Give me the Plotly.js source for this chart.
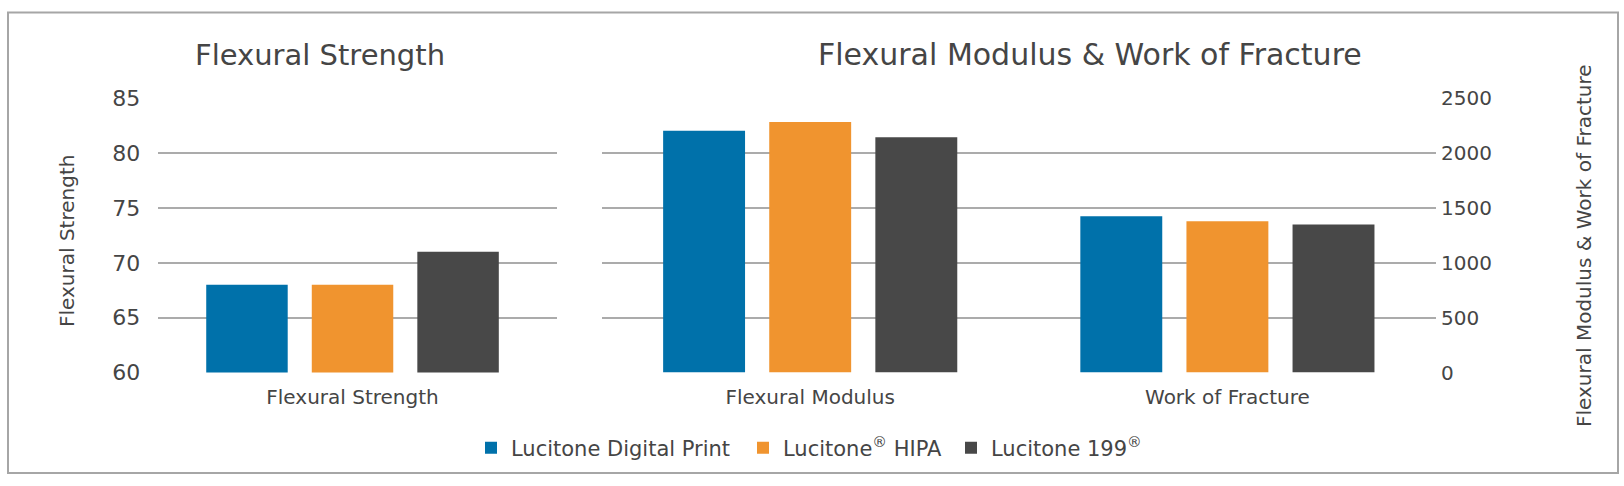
<!DOCTYPE html>
<html>
<head>
<meta charset="utf-8">
<script src="https://cdn.plot.ly/plotly-3.0.1.min.js"></script>
<style>
  html, body { margin: 0; padding: 0; background: #fff; }
  #chart { width: 1624px; height: 486px; }
</style>
</head>
<body>
<div id="chart"></div>
<script>
  // series and values
  const seriesNames = ['Lucitone Digital Print', 'Lucitone<sup>®</sup> HIPA', 'Lucitone 199<sup>®</sup>'];
  const seriesColors = ['#0071aa', '#f0942f', '#484848'];

  const strengthCats = ['Flexural Strength'];
  const strengthVals = [[68], [68], [71]];

  const modulusCats = ['Flexural Modulus', 'Work of Fracture'];
  const modulusVals = [[2205, 1425], [2285, 1380], [2145, 1350]];

  const strengthTicks = [60, 65, 70, 75, 80, 85];
  const modulusTicks = [0, 500, 1000, 1500, 2000, 2500];

  const W = 1624, H = 486;
  const FONT = '"DejaVu Sans", "Open Sans", sans-serif';
  const TXT = '#454545';
  const GRID = '#ababab';

  function px(x) { return x / W; }
  function py(y) { return 1 - y / H; }

  // one legend per series so each key sits where the picture has it
  const legendIds = ['legend', 'legend2', 'legend3'];
  const legendLeft = [485, 757, 965];

  var data = [];
  for (let i = 0; i < seriesNames.length; i++) {
    data.push({
      type: 'bar',
      name: seriesNames[i],
      legendgroup: 's' + i,
      legend: legendIds[i],
      x: strengthCats,
      y: strengthVals[i],
      xaxis: 'x',
      yaxis: 'y',
      marker: { color: seriesColors[i] },
      hoverinfo: 'y+name'
    });
  }
  for (let i = 0; i < seriesNames.length; i++) {
    data.push({
      type: 'bar',
      name: seriesNames[i],
      legendgroup: 's' + i,
      legend: legendIds[i],
      showlegend: false,
      x: modulusCats,
      y: modulusVals[i],
      xaxis: 'x2',
      yaxis: 'y2',
      marker: { color: seriesColors[i] },
      hoverinfo: 'y+name'
    });
  }

  var layout = {
    width: W,
    height: H,
    margin: { l: 0, r: 0, t: 0, b: 0 },
    paper_bgcolor: '#fff',
    plot_bgcolor: '#fff',
    font: { family: FONT, color: TXT, size: 20 },
    barmode: 'group',
    bargap: 0.237,
    bargroupgap: 0.228,
    showlegend: true,
    xaxis: {
      domain: [px(158.3), px(556.7)],
      anchor: 'y',
      type: 'category',
      range: [-0.468, 0.492],
      showgrid: false,
      zeroline: false,
      showline: false,
      ticks: '',
      ticklabelstandoff: 10,
      tickfont: { size: 20, color: TXT }
    },
    yaxis: {
      domain: [py(372.5), py(98.3)],
      anchor: 'x',
      range: [60, 85],
      tickvals: strengthTicks,
      showgrid: true,
      gridcolor: GRID,
      gridwidth: 2,
      zeroline: false,
      showline: false,
      ticks: '',
      ticklabelstandoff: 17,
      tickfont: { size: 22, color: TXT }
    },
    xaxis2: {
      domain: [px(601.6), px(1436)],
      anchor: 'y2',
      type: 'category',
      showgrid: false,
      zeroline: false,
      showline: false,
      ticks: '',
      ticklabelstandoff: 10,
      tickfont: { size: 20, color: TXT }
    },
    yaxis2: {
      domain: [py(372.5), py(98.3)],
      anchor: 'x2',
      side: 'right',
      range: [0, 2500],
      tickvals: modulusTicks,
      showgrid: true,
      gridcolor: GRID,
      gridwidth: 2,
      zeroline: false,
      showline: false,
      ticks: '',
      ticklabelstandoff: 4,
      tickfont: { size: 20, color: TXT }
    },
    annotations: [
      {
        text: 'Flexural Strength', xref: 'paper', yref: 'paper',
        x: px(320), y: py(55), xanchor: 'center', yanchor: 'middle',
        showarrow: false, font: { size: 29, color: TXT }
      },
      {
        text: 'Flexural Modulus &amp; Work of Fracture', xref: 'paper', yref: 'paper',
        x: px(1090), y: py(55), xanchor: 'center', yanchor: 'middle',
        showarrow: false, font: { size: 30, color: TXT }
      },
      {
        text: 'Flexural Strength', xref: 'paper', yref: 'paper',
        x: px(67), y: py(241), xanchor: 'center', yanchor: 'middle',
        textangle: -90, showarrow: false, font: { size: 20, color: TXT }
      },
      {
        text: 'Flexural Modulus &amp; Work of Fracture', xref: 'paper', yref: 'paper',
        x: px(1584), y: py(246), xanchor: 'center', yanchor: 'middle',
        textangle: -90, showarrow: false, font: { size: 20, color: TXT }
      }
    ],
    shapes: [
      {
        type: 'rect', xref: 'paper', yref: 'paper',
        x0: px(8), x1: px(1618), y0: py(473), y1: py(12.6),
        line: { color: '#a6a6a6', width: 2 }, fillcolor: 'rgba(0,0,0,0)'
      }
    ]
  };

  for (let i = 0; i < legendIds.length; i++) {
    layout[legendIds[i]] = {
      orientation: 'h',
      x: px(legendLeft[i] - 14),
      xanchor: 'left',
      y: py(448),
      yanchor: 'middle',
      bgcolor: 'rgba(0,0,0,0)',
      font: { size: 21, color: TXT },
      itemclick: false
    };
  }

  Plotly.newPlot('chart', data, layout, { displayModeBar: false, staticPlot: true });
</script>
</body>
</html>
